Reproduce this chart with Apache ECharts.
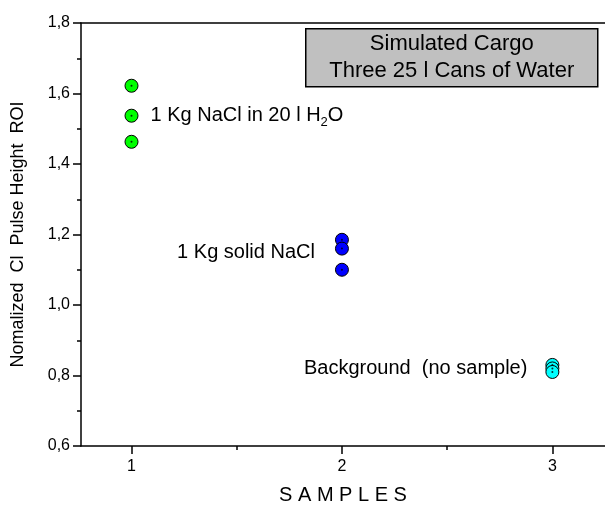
<!DOCTYPE html>
<html><head><meta charset="utf-8">
<script src="https://cdn.jsdelivr.net/npm/echarts@6/dist/echarts.min.js"></script>
<style>html,body{margin:0;padding:0;background:#fff}#c{width:605px;height:506px}</style>
</head><body><div id="c"></div>
<script>
const xTickLabels = [1, 2, 3];
const xMinorTicks = [1.5, 2.5];
const saltWater = [[1, 1.622], [1, 1.537], [1, 1.463]];
const solidSalt = [[2, 1.185], [2, 1.160], [2, 1.100]];
const background = [[3, 0.830], [3, 0.820], [3, 0.810]];
const annotations = ['1 Kg NaCl in 20 l H{sub|2}O', '1 Kg solid NaCl', 'Background  (no sample)'];
const boxLines = ['Simulated Cargo', 'Three 25 l Cans of Water'];

const FONT = '"Liberation Sans", Arial, sans-serif';
const chart = echarts.init(document.getElementById('c'));

function withLabel(data, idx, label) {
  return data.map((d, i) => i === idx ? { value: d, label: label } : { value: d });
}
function pts(name, data, color, label) {
  return [{
    type: 'scatter', name: name, data: withLabel(data, 1, label),
    symbol: 'circle', symbolSize: 13,
    itemStyle: { color: color, borderColor: '#000', borderWidth: 1, opacity: 1 },
    label: { show: false }, z: 3
  }, {
    type: 'scatter', data: data, symbol: 'circle', symbolSize: 2, silent: true,
    itemStyle: { color: '#000' }, z: 4
  }];
}
const txt = { fontFamily: FONT, fontSize: 20, color: '#000' };

chart.setOption({
  animation: false,
  grid: { left: 81, right: 0, top: 23, bottom: 60, containLabel: false, outerBoundsMode: 'none' },
  xAxis: [{
    type: 'value', min: 0.76, max: 3.25, position: 'bottom',
    name: 'S A M P L E S', nameLocation: 'middle', nameGap: 39,
    nameTextStyle: { fontFamily: FONT, fontSize: 20, color: '#000' },
    axisLine: { lineStyle: { color: '#000', width: 1.5 } },
    axisTick: { customValues: xTickLabels, length: 8, inside: false, lineStyle: { color: '#000', width: 1.5 } },
    axisLabel: { customValues: xTickLabels, margin: 13, fontFamily: FONT, fontSize: 16, color: '#000', formatter: v => String(v) },
    splitLine: { show: false }
  }, {
    type: 'value', min: 0.76, max: 3.25, position: 'bottom',
    axisLine: { show: false },
    axisTick: { customValues: xMinorTicks, length: 4, lineStyle: { color: '#000', width: 1.5 } },
    axisLabel: { show: false }, splitLine: { show: false }
  }, {
    type: 'value', min: 0.76, max: 3.25, position: 'top',
    axisLine: { lineStyle: { color: '#000', width: 1.5 } },
    axisTick: { show: false }, axisLabel: { show: false }, splitLine: { show: false }
  }],
  yAxis: {
    type: 'value', min: 0.6, max: 1.8, interval: 0.2,
    name: 'Nomalized  Cl  Pulse Height  ROI', nameLocation: 'middle', nameGap: 54,
    nameTextStyle: { fontFamily: FONT, fontSize: 18, color: '#000' },
    axisLine: { lineStyle: { color: '#000', width: 1.5 } },
    axisTick: { length: 8, lineStyle: { color: '#000', width: 1.5 } },
    minorTick: { show: true, splitNumber: 2, length: 4, lineStyle: { color: '#000', width: 1.5 } },
    axisLabel: { margin: 11, fontFamily: FONT, fontSize: 16, color: '#000', formatter: v => v.toFixed(1).replace('.', ',') },
    splitLine: { show: false }
  },
  series: [].concat(
    pts('salt water', saltWater, '#00ff00', {
      show: true, position: 'right', distance: 12, formatter: annotations[0], ...txt,
      rich: { sub: { fontFamily: FONT, fontSize: 13, color: '#000', padding: [13, 0, 0, 0] } }
    }),
    pts('solid salt', solidSalt, '#0000ff', {
      show: true, position: 'left', distance: 20, offset: [0, 4], formatter: annotations[1], ...txt
    }),
    pts('background', background, '#00ffff', {
      show: true, position: 'left', distance: 18, formatter: annotations[2], ...txt
    })
  ),
  graphic: [{
    type: 'group', left: 305, top: 28,
    children: [{
      type: 'rect', shape: { x: 0, y: 0, width: 292, height: 58 },
      style: { fill: '#c0c0c0', stroke: '#000', lineWidth: 1.5 }
    }, {
      type: 'text', x: 146, y: 15,
      style: { text: boxLines[0], fontFamily: FONT, fontSize: 22, fill: '#000', align: 'center', verticalAlign: 'middle' }
    }, {
      type: 'text', x: 146, y: 42,
      style: { text: boxLines[1], fontFamily: FONT, fontSize: 22, fill: '#000', align: 'center', verticalAlign: 'middle' }
    }]
  }]
});
</script></body></html>
